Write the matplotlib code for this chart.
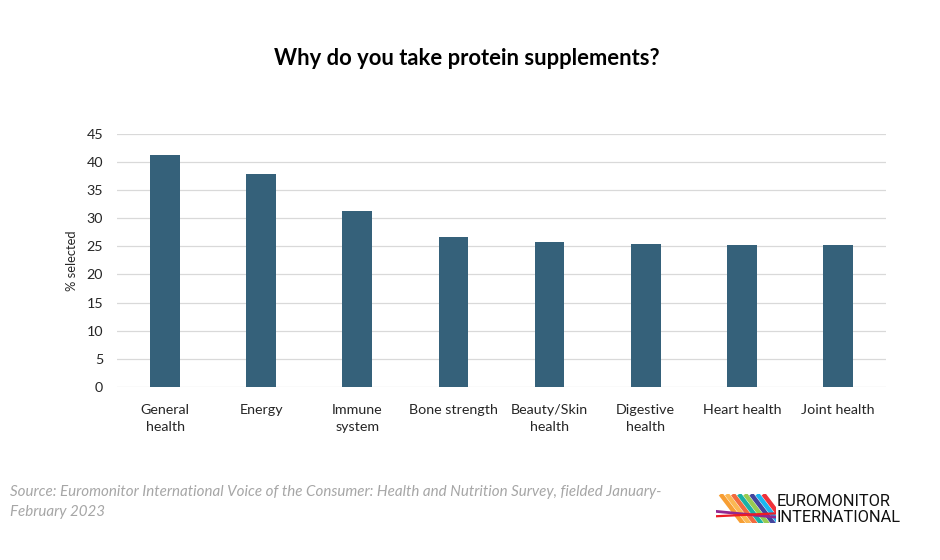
import matplotlib
matplotlib.use("Agg")
import matplotlib.pyplot as plt
import numpy as np

categories = ["General\nhealth", "Energy", "Immune\nsystem", "Bone strength",
              "Beauty/Skin\nhealth", "Digestive\nhealth", "Heart health", "Joint health"]
values = [41.2, 37.9, 31.3, 26.6, 25.7, 25.5, 25.3, 25.2]
yticks = [0, 5, 10, 15, 20, 25, 30, 35, 40, 45]

plt.rcParams['font.family'] = ['Lato', 'DejaVu Sans']

fig = plt.figure(figsize=(9.4, 5.6), dpi=100)
ax = fig.add_axes([0.1245, 0.309, 0.818, 0.452])
x = np.arange(len(categories))
ax.bar(x, values, width=0.31, color="#35617A", zorder=3)
ax.set_xlim(-0.5, len(categories) - 0.5)
ax.set_ylim(0, 45)
ax.set_yticks(yticks)
ax.set_xticks(x)
ax.set_xticklabels(categories, fontsize=10.3, color="#262626", linespacing=1.55)
ax.tick_params(axis='y', labelsize=10.3, colors="#262626", length=0, pad=10)
ax.tick_params(axis='x', length=0, pad=12)
ax.grid(axis='y', color="#d9d9d9", linewidth=0.9, zorder=0)
for s in ax.spines.values():
    s.set_visible(False)
ax.set_ylabel("% selected", fontsize=9.3, color="#262626", labelpad=6)

fig.text(0.497, 0.895, "Why do you take protein supplements?", ha="center", va="center",
         fontsize=15.8, fontweight="bold", color="#000000")

fig.text(0.011, 0.121, "Source: Euromonitor International Voice of the Consumer: Health and Nutrition Survey, fielded January-",
         fontsize=10.9, style="italic", color="#a6a6a6", ha="left", va="center")
fig.text(0.011, 0.085, "February 2023", fontsize=10.9, style="italic", color="#a6a6a6", ha="left", va="center")

# logo
lax = fig.add_axes([0.762, 0.066, 0.064, 0.052])
lax.set_xlim(0, 64)
lax.set_ylim(0, 30)
lax.axis("off")
cols = ["#f7941d", "#fbb040", "#f15a29", "#00a99d", "#8dc63f", "#2e3192", "#00aeef", "#ed1c24"]
t = np.linspace(0, np.pi / 2, 30)
for i, c in enumerate(cols):
    x0 = 6 + i * 6.5
    lax.plot(x0 + 22 * np.cos(t + np.pi / 2) + 22, 28 * np.sin(t + np.pi / 2) * 0 + 28 * np.sin(t), color=c, lw=3.2, alpha=0.9)
lax.plot([0, 64], [12, 6], color="#92278f", lw=2)
lax.plot([0, 64], [7, 10], color="#ed1c24", lw=1.6)
fig.text(0.826, 0.104, "EUROMONITOR", fontsize=11.8, color="#111111", ha="left", va="center",
         family=["Roboto", "DejaVu Sans"], fontstretch="condensed")
fig.text(0.826, 0.076, "INTERNATIONAL", fontsize=11.8, color="#111111", ha="left", va="center",
         family=["Roboto", "DejaVu Sans"], fontstretch="condensed")

fig.savefig("out.png", dpi=100, facecolor="white")
